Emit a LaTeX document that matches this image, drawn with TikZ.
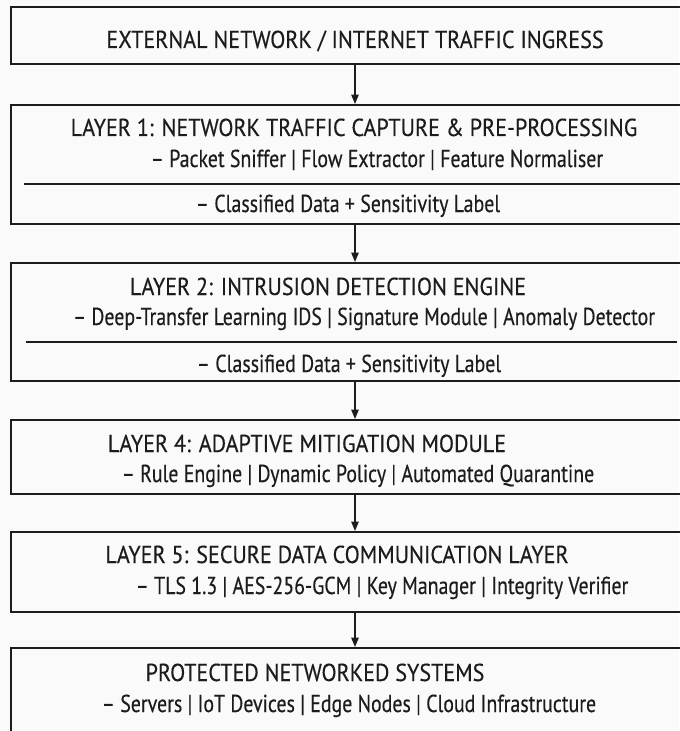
\documentclass[tikz,border=0pt]{standalone}
\usepackage{fontspec}
\setmainfont{PT Sans}
\newfontfamily\headfont[FakeStretch=0.9, FakeBold=0.3]{PT Sans}
\newfontfamily\itemfont[FakeStretch=0.81, FakeBold=0.3]{PT Sans}
\usetikzlibrary{arrows.meta, positioning}
\definecolor{ink}{HTML}{1C1C1C}

\begin{document}
\begin{tikzpicture}[x=0.75pt, y=-0.75pt, >={Triangle[length=7pt,width=5.5pt]}]
    \tikzstyle{stage}=[draw=ink, line width=1.5pt, rectangle, minimum width=516pt, inner sep=0pt]
    \tikzstyle{head}=[anchor=base, inner sep=0pt, text=ink, font=\headfont\fontsize{18.4}{21}\selectfont]
    \tikzstyle{item}=[head, font=\itemfont\fontsize{18.4}{21}\selectfont]
    \tikzstyle{divider}=[draw=ink, line width=1.3pt]
    \tikzstyle{flow}=[->, draw=ink, line width=1.1pt]

    \fill[white!98!black] (0,0) rectangle (679,731);
    \useasboundingbox (0,0) rectangle (679,731);

    % boxes, top to bottom
    \node[stage, minimum height=42.75pt] (ext) at (355,35.5) {};
    \node[stage, minimum height=89.25pt] (L1) at (355,164.5) {};
    \node[stage, minimum height=88.5pt] (L2) at (355,322) {};
    \node[stage, minimum height=55.5pt] (L4) at (355,457) {};
    \node[stage, minimum height=60pt] (L5) at (355,572) {};
    \node[stage, minimum height=91.5pt] (sys) at (355,709) {};

    % texts
    \node[head] (ext-t) at (355,48) {EXTERNAL NETWORK / INTERNET TRAFFIC INGRESS};

    \node[head] (L1-t) at (354,136) {LAYER 1: NETWORK TRAFFIC CAPTURE \& PRE-PROCESSING};
    \node[item] (L1-a) at (377,167) {– Packet Sniffer | Flow Extractor | Feature Normaliser};
    \draw[divider] (24,184) -- (700,184);
    \node[item] (L1-b) at (348,212) {– Classified Data + Sensitivity Label};

    \node[head] (L2-t) at (328,295) {LAYER 2: INTRUSION DETECTION ENGINE};
    \node[item] (L2-a) at (364,325) {– Deep-Transfer Learning IDS | Signature Module | Anomaly Detector};
    \draw[divider] (26,342) -- (677,342);
    \node[item] (L2-b) at (349,372) {– Classified Data + Sensitivity Label};

    \node[head] (L4-t) at (307,452) {LAYER 4: ADAPTIVE MITIGATION MODULE};
    \node[item] (L4-a) at (358,482) {– Rule Engine | Dynamic Policy | Automated Quarantine};

    \node[head] (L5-t) at (337,563) {LAYER 5: SECURE DATA COMMUNICATION LAYER};
    \node[item] (L5-a) at (382,594) {– TLS 1.3 | AES-256-GCM | Key Manager | Integrity Verifier};

    \node[head] (sys-t) at (315,681) {PROTECTED NETWORKED SYSTEMS};
    \node[item] (sys-a) at (349,712) {– Servers | IoT Devices | Edge Nodes | Cloud Infrastructure};

    % arrows
    \foreach \a/\b in {ext/L1, L1/L2, L2/L4, L4/L5, L5/sys}
        \draw[flow] (\a) -- (\b);
\end{tikzpicture}
\end{document}
